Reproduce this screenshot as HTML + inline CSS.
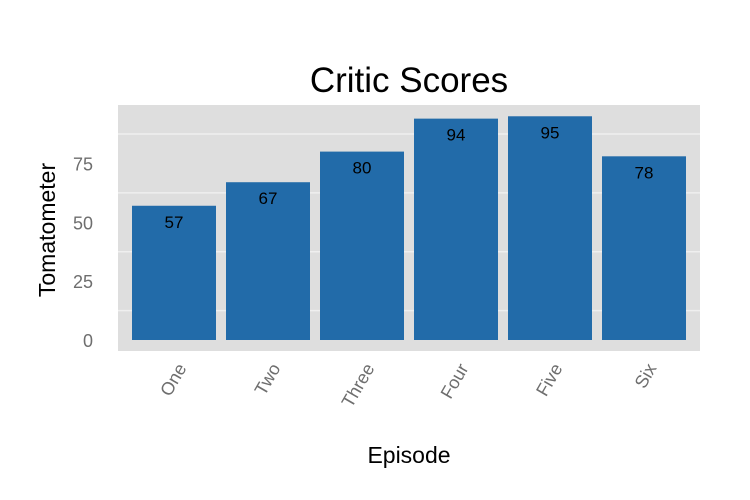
<!DOCTYPE html>
<html><head><meta charset="utf-8"><style>
body{margin:0;background:#fff;}
svg{display:block;font-family:"Liberation Sans",Arial,sans-serif;}
</style></head><body>
<svg id="chart" width="750" height="500">
<rect x="0" y="0" width="750" height="500" fill="#fff"/>
<text x="409" y="92" font-size="35" text-anchor="middle" fill="#000">Critic Scores</text>
<rect x="118" y="105" width="582" height="246" fill="#dedede"/>
<g id="grid"></g><g id="bars"></g><g id="ylabels"></g><g id="xlabels"></g>
<text x="409" y="463" font-size="23" text-anchor="middle" fill="#000">Episode</text>
<text transform="translate(55,230) rotate(-90)" font-size="23" text-anchor="middle" fill="#000">Tomatometer</text>
</svg>
<script>
const categories=["One","Two","Three","Four","Five","Six"];
const scores=[57,67,80,94,95,78];
const yTicks=[0,25,50,75];
const minorGrid=[12.5,37.5,62.5,87.5];
const NS="http://www.w3.org/2000/svg";
function y(v){return 340-v*2.355;}
function xc(i){return 174+i*94;}
function mk(tag,attrs,parent,text){const e=document.createElementNS(NS,tag);for(const k in attrs)e.setAttribute(k,attrs[k]);if(text!==undefined)e.textContent=text;document.getElementById(parent).appendChild(e);return e;}
minorGrid.forEach(v=>{const l=mk('line',{x1:118,x2:700,y1:y(v),y2:y(v),stroke:'#efefef','stroke-width':1.5},'grid');

});
yTicks.forEach(v=>{const t=mk('text',{x:93,y:y(v)+7,'font-size':18,'text-anchor':'end',fill:'#6e6e6e'},'ylabels',String(v));

});
categories.forEach((c,i)=>{
const r=mk('rect',{x:xc(i)-42,y:y(scores[i]),width:84,height:y(0)-y(scores[i]),fill:'#226ba9'},'bars');


const t=mk('text',{x:xc(i),y:y(scores[i])+22,'font-size':17,'text-anchor':'middle',fill:'#000'},'bars',String(scores[i]));


const xl=mk('text',{transform:`translate(${xc(i)+13},${368}) rotate(-60)`,'font-size':18,'text-anchor':'end',fill:'#6e6e6e'},'xlabels',c);


});
</script>
</body></html>
